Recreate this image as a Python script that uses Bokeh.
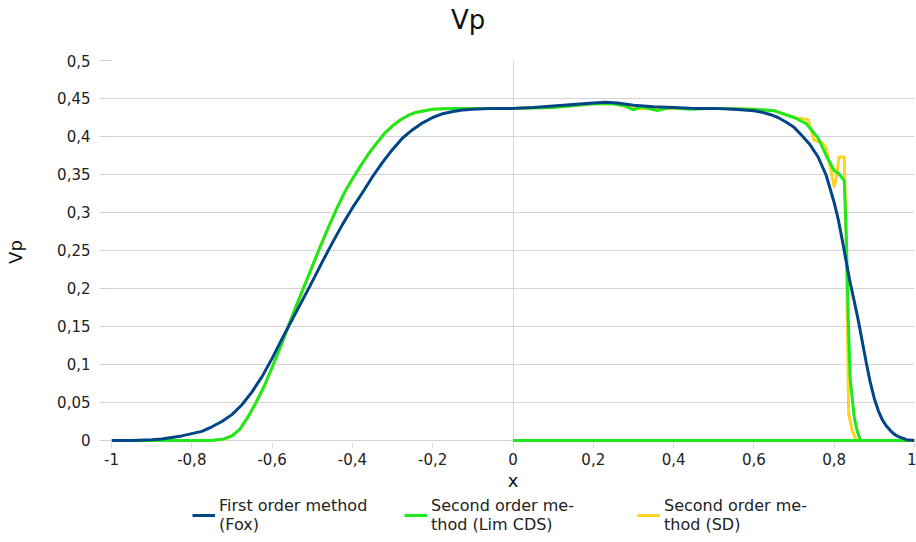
from bokeh.plotting import figure
from bokeh.layouts import column
from bokeh.models import (FixedTicker, CustomJSTickFormatter, Legend, LegendItem, Label)
from bokeh.embed import file_html
from bokeh.resources import INLINE

# First order method (Fox)
fox_x = [-1.0, -0.95, -0.9, -0.875, -0.85, -0.825, -0.8, -0.775, -0.75, -0.725, -0.7,
         -0.675, -0.65, -0.625, -0.6, -0.575, -0.55, -0.525, -0.5, -0.475, -0.45, -0.425,
         -0.4, -0.375, -0.35, -0.325, -0.3, -0.275, -0.25, -0.225, -0.2, -0.175, -0.15,
         -0.125, -0.1, -0.05, 0.0, 0.05, 0.1, 0.15, 0.2, 0.23, 0.26, 0.3, 0.35, 0.4, 0.45,
         0.5, 0.55, 0.6, 0.62, 0.64, 0.66, 0.68, 0.7, 0.72, 0.74, 0.76, 0.78, 0.8, 0.81,
         0.82, 0.83, 0.84, 0.85, 0.86, 0.87, 0.88, 0.89, 0.9, 0.91, 0.92, 0.93, 0.94, 0.95,
         0.96, 0.97, 0.98, 1.0]
fox_y = [0.0, 0.0, 0.001, 0.002, 0.004, 0.006, 0.009, 0.012, 0.018, 0.025, 0.034,
         0.047, 0.064, 0.084, 0.108, 0.134, 0.159, 0.184, 0.209, 0.235, 0.260, 0.284,
         0.306, 0.326, 0.347, 0.366, 0.383, 0.398, 0.409, 0.418, 0.425, 0.430, 0.433,
         0.435, 0.436, 0.437, 0.437, 0.438, 0.440, 0.442, 0.444, 0.445, 0.444, 0.441,
         0.439, 0.438, 0.437, 0.437, 0.436, 0.434, 0.432, 0.429, 0.425, 0.419, 0.412,
         0.401, 0.389, 0.373, 0.349, 0.313, 0.291, 0.264, 0.235, 0.207, 0.183, 0.158,
         0.130, 0.102, 0.076, 0.055, 0.039, 0.027, 0.019, 0.013, 0.008, 0.005, 0.003,
         0.001, 0.0]

# Second order method (Lim CDS)
lim_x = [-1.0, -0.8, -0.75, -0.72, -0.7, -0.68, -0.66, -0.64, -0.62, -0.6, -0.58, -0.56,
         -0.54, -0.52, -0.5, -0.48, -0.46, -0.44, -0.42, -0.4, -0.38, -0.36, -0.34, -0.32,
         -0.3, -0.28, -0.26, -0.24, -0.22, -0.2, -0.15, 0.0, 0.1, 0.2, 0.25, 0.28, 0.3, 0.32,
         0.36, 0.39, 0.44, 0.5, 0.6, 0.65, 0.7, 0.73, 0.76, 0.78, 0.8, 0.81, 0.825, 0.83,
         0.835, 0.84, 0.85, 0.857, 0.865, 1.0, 0.0]
lim_y = [0.0, 0.0, 0.0, 0.002, 0.006, 0.015, 0.031, 0.050, 0.071, 0.096, 0.122, 0.150,
         0.177, 0.203, 0.229, 0.255, 0.280, 0.304, 0.326, 0.344, 0.361, 0.377, 0.391, 0.404,
         0.414, 0.422, 0.428, 0.432, 0.434, 0.436, 0.437, 0.437, 0.438, 0.443, 0.443, 0.440,
         0.435, 0.439, 0.434, 0.438, 0.436, 0.437, 0.436, 0.434, 0.425, 0.417, 0.398, 0.375,
         0.355, 0.352, 0.342, 0.270, 0.160, 0.080, 0.030, 0.013, 0.0, 0.0, 0.0]

# Second order method (SD)
sd_x = [-1.0, -0.8, -0.75, -0.72, -0.7, -0.68, -0.66, -0.64, -0.62, -0.6, -0.58, -0.56,
        -0.54, -0.52, -0.5, -0.48, -0.46, -0.44, -0.42, -0.4, -0.38, -0.36, -0.34, -0.32,
        -0.3, -0.28, -0.26, -0.24, -0.22, -0.2, -0.15, 0.0, 0.1, 0.2, 0.25, 0.3, 0.4, 0.5,
        0.6, 0.65, 0.7, 0.735, 0.742, 0.75, 0.77, 0.78, 0.79, 0.8, 0.805, 0.812, 0.825,
        0.83, 0.836, 0.845, 0.855, 1.0]
sd_y = [0.0, 0.0, 0.0, 0.002, 0.006, 0.015, 0.031, 0.050, 0.071, 0.096, 0.122, 0.150,
        0.177, 0.203, 0.229, 0.255, 0.280, 0.304, 0.326, 0.344, 0.361, 0.377, 0.391, 0.404,
        0.414, 0.422, 0.428, 0.432, 0.434, 0.436, 0.437, 0.437, 0.438, 0.443, 0.443, 0.437,
        0.437, 0.437, 0.436, 0.434, 0.425, 0.422, 0.410, 0.395, 0.392, 0.385, 0.360, 0.333,
        0.345, 0.373, 0.373, 0.260, 0.035, 0.013, 0.0, 0.0]

x_ticks = [-1.0, -0.8, -0.6, -0.4, -0.2, 0.0, 0.2, 0.4, 0.6, 0.8, 1.0]
y_ticks = [0.0, 0.05, 0.1, 0.15, 0.2, 0.25, 0.3, 0.35, 0.4, 0.45, 0.5]

series_labels = ["First order method\n(Fox)",
                 "Second order me-\nthod (Lim CDS)",
                 "Second order me-\nthod (SD)"]
series_colors = ["#004586", "#1ee81e", "#ffd320"]
series_data = [(fox_x, fox_y), (lim_x, lim_y), (sd_x, sd_y)]

FONT = "DejaVu Sans"
GRID = "#d4d4d4"


def strip(height, y_range):
    """A bare figure used for the title and legend rows."""
    f = figure(width=916, height=height, output_backend="svg", toolbar_location=None,
               min_border=0, x_range=(-1, 1), y_range=y_range)
    f.axis.visible = False
    f.grid.visible = False
    f.outline_line_color = None
    return f


# title row (y in pixels from the bottom of the row)
head = strip(40, (0, 40))
head.add_layout(Label(x=-0.112, y=21, text="Vp", text_align="center",
                      text_baseline="alphabetic", text_font=FONT,
                      text_font_size="26px", text_color="#111111"))

# main chart; the y range dips a hair below zero so lines lying on y = 0
# are drawn at full width instead of being half cut by the frame edge
p = figure(width=916, height=457, x_range=(-1, 1), y_range=(-0.004, 0.5),
           output_backend="svg", toolbar_location=None,
           min_border_left=111, min_border_right=2, min_border_top=20,
           min_border_bottom=54)
p.outline_line_color = None

comma = CustomJSTickFormatter(
    code="return (Math.round(tick * 100) / 100).toString().replace('.', ',');")

for ax in (p.xaxis[0], p.yaxis[0]):
    # axis lines come from the grid (drawn beneath the curves)
    ax.axis_line_color = None
    ax.major_tick_line_color = GRID
    ax.minor_tick_line_color = None
    ax.major_tick_in = 0
    ax.major_label_text_font = FONT
    ax.major_label_text_font_size = "15px"
    ax.major_label_text_color = "#222222"
    ax.axis_label_text_font = FONT
    ax.axis_label_text_font_style = "normal"
    ax.axis_label_text_font_size = "18px"
    ax.axis_label_text_color = "#111111"
    ax.formatter = comma

p.xaxis.ticker = FixedTicker(ticks=x_ticks)
p.yaxis.ticker = FixedTicker(ticks=y_ticks)
p.xaxis.major_tick_out = 4
p.yaxis.major_tick_out = 12
p.xaxis.axis_label = "x"
p.yaxis.axis_label = "Vp"
p.xaxis.major_label_standoff = 5
p.yaxis.major_label_standoff = 9
p.xaxis.axis_label_standoff = 2
p.yaxis.axis_label_standoff = 28

# vertical rules only at the left edge and at x = 0
p.xgrid.ticker = FixedTicker(ticks=[-1.0, 0.0])
p.xgrid.grid_line_color = GRID
p.ygrid.grid_line_color = GRID
p.ygrid.ticker = FixedTicker(ticks=y_ticks)

for (xs, ys), color in reversed(list(zip(series_data, series_colors))):
    p.line(xs, ys, line_color=color, line_width=3)

# legend row: the same series, kept out of this row's view, feed the swatches
leg = strip(45, (10, 11))
for (xs, ys), label, color, left in zip(series_data, series_labels, series_colors,
                                        [81, 293, 526]):
    swatch = leg.line(xs, ys, line_color=color, line_width=3)
    lg = Legend(items=[LegendItem(label=label, renderers=[swatch])],
                location=(left, 8))
    lg.label_text_font = FONT
    lg.label_text_font_size = "16px"
    lg.label_text_color = "#222222"
    lg.label_text_line_height = 1.15
    lg.border_line_color = None
    lg.background_fill_alpha = 0
    lg.glyph_width = 23
    lg.padding = 0
    lg.margin = 0
    lg.label_standoff = 4
    leg.add_layout(lg, "center")

open("out.html", "w").write(file_html(column(head, p, leg, spacing=0), INLINE))
